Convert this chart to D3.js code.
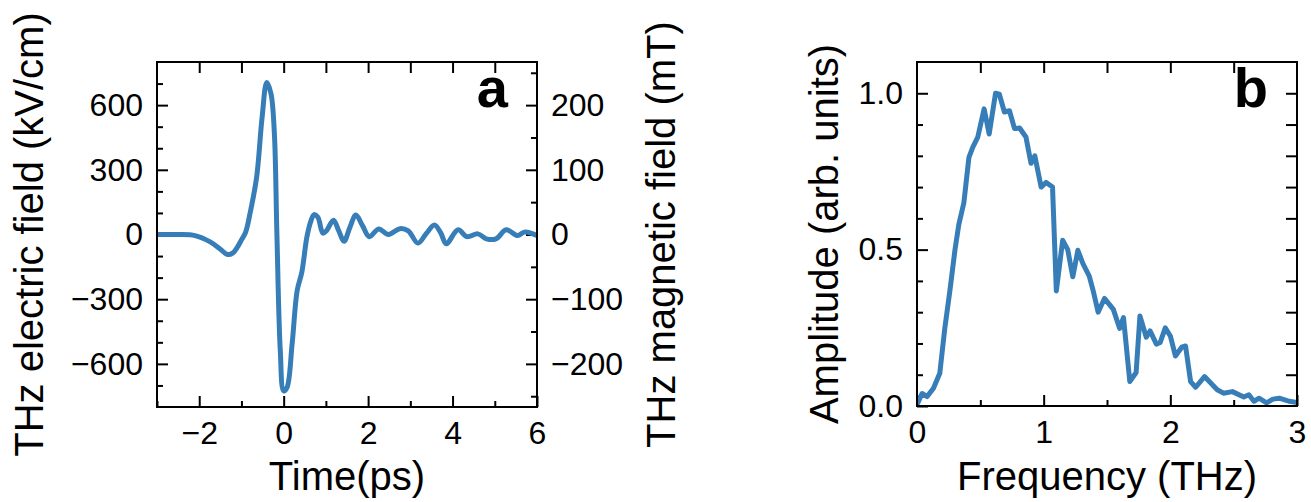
<!DOCTYPE html>
<html>
<head>
<meta charset="utf-8">
<script src="https://cdn.jsdelivr.net/npm/d3@7"></script>
<style>
body { margin: 0; background: #fff; }
svg { font-family: "Liberation Sans", Arial, sans-serif; }
</style>
</head>
<body>
<svg id="fig" width="1311" height="502"></svg>
<script>
// panel a: THz time trace
var timePs = [-3.0, -2.5, -2.1, -1.75, -1.5, -1.33, -1.2, -1.1, -1.0, -0.9, -0.79, -0.64, -0.51, -0.40, -0.30, -0.22, -0.16, -0.08, 0.0, 0.08,
	0.2, 0.32, 0.43, 0.55, 0.64, 0.72, 0.81, 0.93, 1.02, 1.18, 1.30, 1.43, 1.57, 1.71, 1.87, 2.03, 2.25, 2.48, 2.75, 2.95,
	3.18, 3.38, 3.57, 3.72, 3.85, 4.13, 4.34, 4.60, 4.80, 5.03, 5.27, 5.54, 5.70, 5.90, 6.0];
var eField = [0, 0, -5, -33, -68, -93, -85, -60, -25, 11, 104, 266, 545, 705, 653, 468, 0, -539, -725, -709,
	-508, -260, -175, -12, 60, 92, 80, 6, 19, 66, 19, -31, 34, 90, 40, -10, 26, 0, 27, 17,
	-40, 5, 44, 8, -43, 22, -10, 3, -20, -20, 22, -5, 11, 3, -5];

// panel b: spectrum
var freqTHz = [0.0, 0.04, 0.08, 0.13, 0.18, 0.22, 0.26, 0.30, 0.33, 0.37, 0.41, 0.44, 0.48, 0.53, 0.57, 0.62, 0.65, 0.69, 0.73, 0.77,
	0.81, 0.86, 0.90, 0.93, 0.98, 1.02, 1.07, 1.10, 1.15, 1.19, 1.23, 1.27, 1.31, 1.36, 1.39, 1.43, 1.48, 1.55, 1.60, 1.63,
	1.68, 1.73, 1.76, 1.81, 1.84, 1.89, 1.92, 1.96, 2.00, 2.04, 2.09, 2.12, 2.16, 2.20, 2.27, 2.37, 2.42, 2.49, 2.58, 2.62,
	2.66, 2.70, 2.76, 2.81, 2.86, 2.94, 3.0];
var amplitude = [0.004, 0.04, 0.03, 0.057, 0.105, 0.25, 0.37, 0.50, 0.58, 0.65, 0.795, 0.827, 0.86, 0.95, 0.87, 1.0, 0.997, 0.94, 0.944, 0.887,
	0.889, 0.86, 0.776, 0.80, 0.70, 0.715, 0.70, 0.368, 0.53, 0.50, 0.413, 0.498, 0.455, 0.415, 0.37, 0.30, 0.344, 0.309, 0.248, 0.283,
	0.078, 0.107, 0.288, 0.22, 0.24, 0.198, 0.203, 0.25, 0.224, 0.16, 0.188, 0.192, 0.078, 0.06, 0.094, 0.052, 0.041, 0.046, 0.029, 0.036,
	0.015, 0.025, 0.01, 0.022, 0.025, 0.015, 0.011];

// ticks
var timeMajor = [-2, 0, 2, 4, 6];
var timeMinor = [-3, -1, 1, 3, 5];
var timeTop = [-2, -1, 0, 1, 2, 3, 4, 5];
var eMajor = [-600, -300, 0, 300, 600];
var eMinor = [-700, -500, -400, -200, -100, 100, 200, 400, 500, 700];
var bMajor = [-200, -100, 0, 100, 200];
var bMinor = [-250, -150, -50, 50, 150, 250];
var freqMajor = [0, 1, 2, 3];
var freqMinor = [0.5, 1.5, 2.5];
var freqTop = [0.5, 1, 1.5, 2, 2.5];
var ampMajor = [0, 0.5, 1.0];
var ampMinor = [0.1, 0.2, 0.3, 0.4, 0.6, 0.7, 0.8, 0.9];
var ampRight = [0.1, 0.2, 0.3, 0.4, 0.5, 0.6, 0.7, 0.8, 0.9, 1.0];

var lineColor = "#377eb8";
var lineStroke = 5;
var tickFont = 32, labelFont = 40;
var majorLen = 11, minorLen = 6;

var svg = d3.select("#fig");

function drawAxis(g, axis, ticks, len, fmt) {
	var a = g.call(axis.tickValues(ticks).tickSize(-len).tickPadding(14).tickFormat(fmt));
	a.select(".domain").remove();
	a.selectAll("line").attr("stroke", "#000").attr("stroke-width", 2);
	a.selectAll("text").attr("font-size", tickFont).attr("fill", "#000")
		.attr("font-family", "Liberation Sans, Arial, sans-serif");
	return a;
}
var noLab = function() { return ""; };

//Panel a
var aL = 157, aR = 537, aT = 62, aB = 407;
var tx = d3.scaleLinear().domain([-3, 6]).range([aL, aR]);
var ey = d3.scaleLinear().domain([-800, 800]).range([aB, aT]);
var by = d3.scaleLinear().domain([-800 / 3, 800 / 3]).range([aB, aT]);

drawAxis(svg.append("g").attr("transform", "translate(0," + aB + ")"), d3.axisBottom(tx), timeMajor, majorLen, d3.format("d"));
drawAxis(svg.append("g").attr("transform", "translate(0," + aB + ")"), d3.axisBottom(tx), timeMinor, minorLen, noLab);
drawAxis(svg.append("g").attr("transform", "translate(0," + aT + ")"), d3.axisTop(tx), timeTop, majorLen, noLab);
drawAxis(svg.append("g").attr("transform", "translate(" + aL + ",0)"), d3.axisLeft(ey), eMajor, majorLen, d3.format("d"));
drawAxis(svg.append("g").attr("transform", "translate(" + aL + ",0)"), d3.axisLeft(ey), eMinor, minorLen, noLab);
drawAxis(svg.append("g").attr("transform", "translate(" + aR + ",0)"), d3.axisRight(by), bMajor, majorLen, d3.format("d"));
drawAxis(svg.append("g").attr("transform", "translate(" + aR + ",0)"), d3.axisRight(by), bMinor, minorLen, noLab);

svg.append("clipPath").attr("id", "clipA").append("rect")
	.attr("x", aL).attr("y", aT).attr("width", aR - aL).attr("height", aB - aT);

var linea = d3.line().x(function(d, i) { return tx(timePs[i]); })
	.y(function(d) { return ey(d); }).curve(d3.curveCatmullRom.alpha(0.5));
svg.append("path").attr("d", linea(eField))
	.attr("clip-path", "url(#clipA)")
	.attr("fill", "none").attr("stroke", lineColor).attr("stroke-width", lineStroke)
	.attr("stroke-linejoin", "round").attr("stroke-linecap", "round");

svg.append("rect").attr("x", aL).attr("y", aT).attr("width", aR - aL).attr("height", aB - aT)
	.attr("fill", "none").attr("stroke", "#000").attr("stroke-width", 2);

svg.append("text").attr("x", (aL + aR) / 2).attr("y", 490).attr("text-anchor", "middle")
	.attr("font-size", labelFont).text("Time(ps)");
svg.append("text").attr("transform", "translate(43," + (aT + aB) / 2 + ") rotate(-90)")
	.attr("text-anchor", "middle").attr("font-size", labelFont).text("THz electric field (kV/cm)");
svg.append("text").attr("transform", "translate(675," + (aT + aB) / 2 + ") rotate(-90)")
	.attr("text-anchor", "middle").attr("font-size", labelFont).text("THz magnetic field (mT)");
svg.append("text").attr("x", 508).attr("y", 107).attr("text-anchor", "end")
	.attr("font-size", 56).attr("font-weight", "bold").text("a");

//Panel b
var bL = 917, bR = 1297, bT = 62, bB = 406;
var fx = d3.scaleLinear().domain([0, 3]).range([bL, bR]);
var ay = d3.scaleLinear().domain([0, 1.1]).range([bB, bT]);

drawAxis(svg.append("g").attr("transform", "translate(0," + bB + ")"), d3.axisBottom(fx), freqMajor, majorLen, d3.format("d"));
drawAxis(svg.append("g").attr("transform", "translate(0," + bB + ")"), d3.axisBottom(fx), freqMinor, minorLen, noLab);
drawAxis(svg.append("g").attr("transform", "translate(0," + bT + ")"), d3.axisTop(fx), freqTop, majorLen, noLab);
drawAxis(svg.append("g").attr("transform", "translate(" + bL + ",0)"), d3.axisLeft(ay), ampMajor, majorLen, d3.format(".1f"));
drawAxis(svg.append("g").attr("transform", "translate(" + bL + ",0)"), d3.axisLeft(ay), ampMinor, minorLen, noLab);
drawAxis(svg.append("g").attr("transform", "translate(" + bR + ",0)"), d3.axisRight(ay), ampRight, majorLen, noLab);

svg.append("clipPath").attr("id", "clipB").append("rect")
	.attr("x", bL).attr("y", bT).attr("width", bR - bL).attr("height", bB - bT);

var lineb = d3.line().x(function(d, i) { return fx(freqTHz[i]); })
	.y(function(d) { return ay(d); });
svg.append("path").attr("d", lineb(amplitude))
	.attr("clip-path", "url(#clipB)")
	.attr("fill", "none").attr("stroke", lineColor).attr("stroke-width", lineStroke)
	.attr("stroke-linejoin", "round").attr("stroke-linecap", "round");

svg.append("rect").attr("x", bL).attr("y", bT).attr("width", bR - bL).attr("height", bB - bT)
	.attr("fill", "none").attr("stroke", "#000").attr("stroke-width", 2);

svg.append("text").attr("x", (bL + bR) / 2).attr("y", 490).attr("text-anchor", "middle")
	.attr("font-size", labelFont).text("Frequency (THz)");
svg.append("text").attr("transform", "translate(838," + (bT + bB) / 2 + ") rotate(-90)")
	.attr("text-anchor", "middle").attr("font-size", labelFont).text("Amplitude (arb. units)");
svg.append("text").attr("x", 1268).attr("y", 107).attr("text-anchor", "end")
	.attr("font-size", 56).attr("font-weight", "bold").text("b");
</script>
</body>
</html>
